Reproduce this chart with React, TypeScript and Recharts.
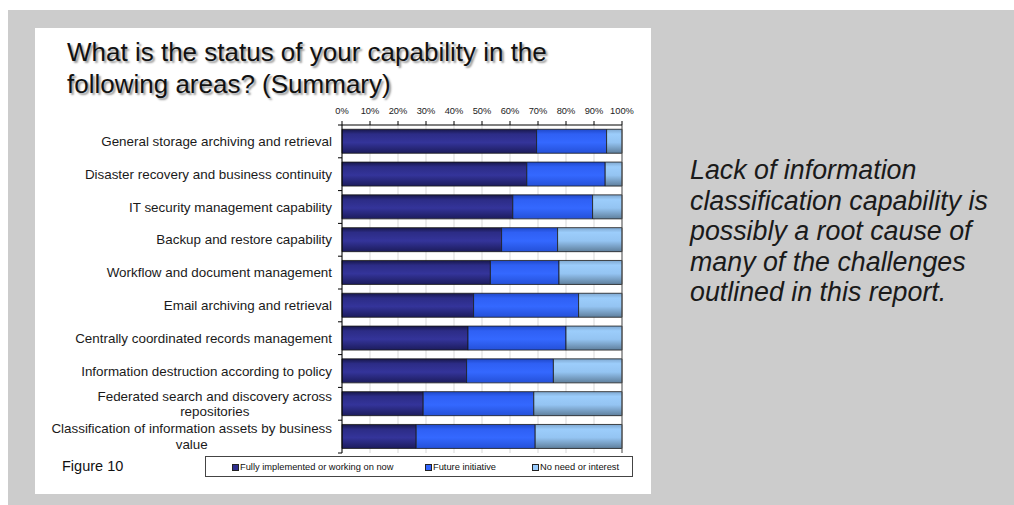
import React from "react";
import { Bar, BarChart, CartesianGrid, ReferenceLine, XAxis, YAxis } from "recharts";

const FONT = "Arial, 'Liberation Sans', sans-serif";

const categories = [
  "General storage archiving and retrieval",
  "Disaster recovery and business continuity",
  "IT security management capability",
  "Backup and restore capability",
  "Workflow and document management",
  "Email archiving and retrieval",
  "Centrally coordinated records management",
  "Information destruction according to policy",
  "Federated search and discovery across repositories",
  "Classification of information assets by business value",
];

const fullyImplemented = [69.5, 66, 61, 57, 53, 47, 45, 44.5, 29, 26.5];
const futureInitiative = [25, 28, 28.5, 20, 24.5, 37.5, 35, 31, 39.5, 42.5];
const noNeed = [5.5, 6, 10.5, 23, 22.5, 15.5, 20, 24.5, 31.5, 31];

const percentTicks = [0, 10, 20, 30, 40, 50, 60, 70, 80, 90, 100];

const seriesNames = ["Fully implemented or working on now", "Future initiative", "No need or interest"];

const rows = categories.map((name, i) => ({
  name,
  fully: fullyImplemented[i],
  future: futureInitiative[i],
  none: noNeed[i],
}));

const CHART_W = 616;
const CHART_H = 466;
const MARGIN = { top: 67, right: 29, bottom: 41, left: 0 };
const X_AXIS_H = 30;
const PLOT_H = CHART_H - MARGIN.top - MARGIN.bottom - X_AXIS_H;
const BAND = PLOT_H / categories.length;
const TICK_SIZE = 4;
const TICK_MARGIN = 6;
const LABEL_SIZE = 13.4;

let measureCtx: CanvasRenderingContext2D | null = null;
function textWidth(s: string, size: number) {
  if (!measureCtx) measureCtx = document.createElement("canvas").getContext("2d");
  if (!measureCtx) return s.length * size * 0.5;
  measureCtx.font = `${size}px 'Liberation Sans'`;
  return measureCtx.measureText(s).width;
}

function wrapLabel(label: string, maxChars: number) {
  const words = label.split(" ");
  const lines: string[] = [];
  let cur = "";
  for (const w of words) {
    const next = cur ? cur + " " + w : w;
    if (next.length > maxChars && cur) {
      lines.push(cur);
      cur = w;
    } else cur = next;
  }
  if (cur) lines.push(cur);
  return lines;
}

// category label plus the small boundary ticks between rows
function CategoryTick(props: any) {
  const { x, y, payload, index } = props;
  const lines = wrapLabel(String(payload.value), 48);
  const lineH = 15.5;
  const axisX = x + TICK_MARGIN + TICK_SIZE;
  const top = y - ((lines.length - 1) * lineH) / 2;
  const blockW = Math.max(...lines.map((l) => textWidth(l, LABEL_SIZE)));
  const centerX = x - blockW / 2;
  return (
    <g>
      <line x1={axisX - TICK_SIZE} x2={axisX} y1={y - BAND / 2} y2={y - BAND / 2} stroke="#000" />
      {index === categories.length - 1 && (
        <line x1={axisX - TICK_SIZE} x2={axisX} y1={y + BAND / 2} y2={y + BAND / 2} stroke="#000" />
      )}
      {lines.map((l, i) => (
        <text
          key={i}
          x={lines.length > 1 ? centerX : x}
          y={top + i * lineH}
          textAnchor={lines.length > 1 ? "middle" : "end"}
          dominantBaseline="central"
          fontSize={LABEL_SIZE}
          fontFamily={FONT}
          fill="#1a1a1a"
        >
          {l}
        </text>
      ))}
    </g>
  );
}

function LegendSwatch({ color }: { color: string }) {
  return (
    <span
      style={{
        display: "inline-block",
        width: 5,
        height: 5,
        background: color,
        border: "1px solid #222",
        marginRight: 1,
        verticalAlign: "middle",
      }}
    />
  );
}

const swatchColors = ["#2e2e8e", "#3366ff", "#99ccff"];

export default function App() {
  return (
    <div style={{ position: "absolute", left: 0, top: 0, width: 1014, height: 505, background: "#fff", overflow: "hidden" }}>
      <div style={{ position: "absolute", left: 8, top: 10, width: 1006, height: 495, background: "#cccccc" }} />
      <div style={{ position: "absolute", left: 35, top: 28, width: CHART_W, height: CHART_H, background: "#fff" }}>
        <div
          style={{
            position: "absolute",
            left: 32,
            top: 8,
            fontFamily: FONT,
            fontSize: 26,
            lineHeight: "32px",
            color: "#111",
            textShadow: "2px 2px 2px #999",
            whiteSpace: "nowrap",
          }}
        >
          What is the status of your capability in the
          <br />
          following areas? (Summary)
        </div>
        <BarChart
          width={CHART_W}
          height={CHART_H}
          data={rows}
          layout="vertical"
          margin={MARGIN}
          barCategoryGap="13%"
          style={{ position: "absolute", left: 0, top: 0 }}
        >
          <defs>
            <linearGradient id="gFully" x1="0" y1="0" x2="0" y2="1">
              <stop offset="0" stopColor="#17174a" />
              <stop offset="0.2" stopColor="#2c2c86" />
              <stop offset="0.55" stopColor="#34349a" />
              <stop offset="1" stopColor="#1c1c5c" />
            </linearGradient>
            <linearGradient id="gFuture" x1="0" y1="0" x2="0" y2="1">
              <stop offset="0" stopColor="#1f48c8" />
              <stop offset="0.2" stopColor="#2f60f4" />
              <stop offset="0.55" stopColor="#3468ff" />
              <stop offset="1" stopColor="#2450d8" />
            </linearGradient>
            <linearGradient id="gNone" x1="0" y1="0" x2="0" y2="1">
              <stop offset="0" stopColor="#7fa8d0" />
              <stop offset="0.2" stopColor="#9ccdfb" />
              <stop offset="0.55" stopColor="#94c4f2" />
              <stop offset="1" stopColor="#5f7f9c" />
            </linearGradient>
          </defs>
          <CartesianGrid horizontal={false} stroke="#d9d9d9" />
          <XAxis
            type="number"
            orientation="top"
            domain={[0, 100]}
            ticks={percentTicks}
            tickFormatter={(v: number) => `${v}%`}
            height={X_AXIS_H}
            tickSize={TICK_SIZE}
            tickMargin={7}
            interval={0}
            axisLine={{ stroke: "#000" }}
            tickLine={{ stroke: "#000" }}
            tick={{ fontSize: 9.3, fontFamily: FONT, fill: "#222" }}
          />
          <YAxis
            type="category"
            dataKey="name"
            width={307}
            tickSize={TICK_SIZE}
            tickMargin={TICK_MARGIN}
            tickLine={false}
            interval={0}
            axisLine={{ stroke: "#000" }}
            tick={<CategoryTick />}
          />
          <ReferenceLine x={100} stroke="#555" />
          <Bar dataKey="fully" stackId="s" name={seriesNames[0]} fill="url(#gFully)" stroke="#1a1a1a" strokeWidth={0.8} isAnimationActive={false} />
          <Bar dataKey="future" stackId="s" name={seriesNames[1]} fill="url(#gFuture)" stroke="#1a1a1a" strokeWidth={0.8} isAnimationActive={false} />
          <Bar dataKey="none" stackId="s" name={seriesNames[2]} fill="url(#gNone)" stroke="#1a1a1a" strokeWidth={0.8} isAnimationActive={false} />
        </BarChart>
        <div style={{ position: "absolute", left: 27, top: 430, fontFamily: FONT, fontSize: 14.5, color: "#111" }}>Figure 10</div>
        <div
          style={{
            position: "absolute",
            left: 170,
            top: 428,
            width: 426,
            height: 19,
            border: "1px solid #444",
            display: "flex",
            alignItems: "center",
            fontFamily: FONT,
            fontSize: 9.3,
            color: "#111",
            whiteSpace: "nowrap",
          }}
        >
          <span style={{ position: "absolute", left: 26 }}>
            <LegendSwatch color={swatchColors[0]} />
            {seriesNames[0]}
          </span>
          <span style={{ position: "absolute", left: 219 }}>
            <LegendSwatch color={swatchColors[1]} />
            {seriesNames[1]}
          </span>
          <span style={{ position: "absolute", left: 326 }}>
            <LegendSwatch color={swatchColors[2]} />
            {seriesNames[2]}
          </span>
        </div>
      </div>
      <div
        style={{
          position: "absolute",
          left: 690,
          top: 155,
          fontFamily: FONT,
          fontStyle: "italic",
          fontSize: 26.8,
          lineHeight: "30.5px",
          color: "#1a1a1a",
          whiteSpace: "nowrap",
        }}
      >
        Lack of information
        <br />
        classification capability is
        <br />
        possibly a root cause of
        <br />
        many of the challenges
        <br />
        outlined in this report.
      </div>
    </div>
  );
}
